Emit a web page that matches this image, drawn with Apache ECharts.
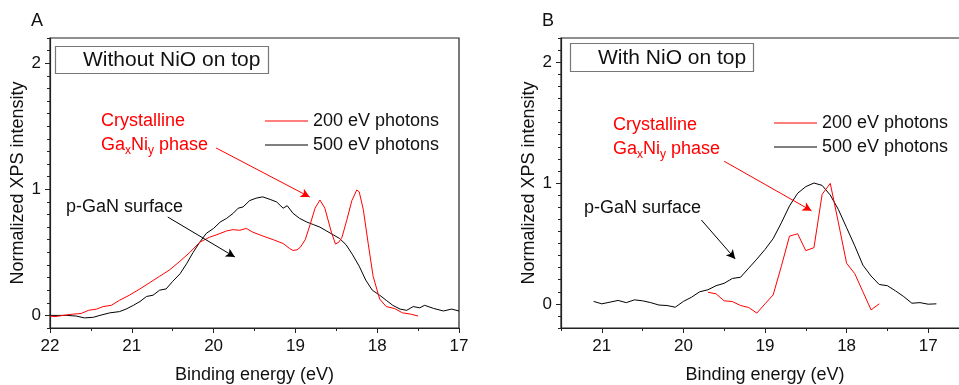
<!DOCTYPE html>
<html>
<head>
<meta charset="utf-8">
<script src="https://cdn.jsdelivr.net/npm/echarts@6/dist/echarts.min.js"></script>
<style>
html,body{margin:0;padding:0;background:#fff;}
#chart{width:959px;height:385px;}
</style>
</head>
<body>
<div id="chart"></div>
<script>
// ---------- Data ----------
// Panel A: Without NiO on top
const aE500 = [22.0,21.8,21.68,21.58,21.47,21.39,21.27,21.15,21.07,20.98,20.9,20.82,20.74,20.66,20.58,20.5,20.41,20.33,20.25,20.17,20.09,20.0,19.92,19.84,19.76,19.7,19.64,19.56,19.48,19.4,19.31,19.23,19.15,19.1,19.03,18.95,18.86,18.78,18.7,18.62,18.54,18.46,18.38,18.3,18.22,18.14,18.06,17.97,17.89,17.81,17.72,17.64,17.56,17.48,17.42,17.31,17.19,17.09,17.0];
const aI500 = [0.0,0.0,-0.005,-0.02,-0.015,0.0,0.02,0.03,0.05,0.08,0.11,0.15,0.16,0.2,0.21,0.27,0.33,0.41,0.5,0.58,0.65,0.69,0.74,0.77,0.81,0.85,0.86,0.91,0.93,0.94,0.92,0.9,0.85,0.87,0.81,0.77,0.74,0.72,0.7,0.67,0.64,0.61,0.56,0.48,0.39,0.28,0.2,0.16,0.12,0.08,0.05,0.04,0.07,0.06,0.08,0.055,0.035,0.05,0.035];
const aE200 = [22.0,21.94,21.84,21.72,21.62,21.53,21.43,21.35,21.25,21.15,21.03,20.9,20.78,20.66,20.54,20.41,20.29,20.17,20.05,19.96,19.84,19.76,19.68,19.6,19.52,19.4,19.27,19.15,19.07,19.03,18.98,18.94,18.88,18.82,18.76,18.7,18.64,18.56,18.51,18.47,18.43,18.37,18.31,18.25,18.22,18.17,18.11,18.05,17.97,17.89,17.79,17.69,17.59,17.5];
const aI200 = [-0.005,-0.01,0.0,0.01,0.015,0.04,0.05,0.07,0.08,0.12,0.16,0.21,0.26,0.31,0.36,0.43,0.5,0.58,0.62,0.64,0.67,0.68,0.675,0.69,0.66,0.63,0.6,0.57,0.53,0.515,0.52,0.54,0.6,0.72,0.85,0.915,0.85,0.66,0.566,0.58,0.62,0.76,0.91,0.995,0.98,0.84,0.57,0.31,0.13,0.07,0.055,0.02,0.01,-0.005];

// Panel B: With NiO on top
const bE500 = [21.1,21.0,20.9,20.8,20.7,20.6,20.5,20.4,20.3,20.2,20.1,20.0,19.9,19.8,19.7,19.6,19.5,19.4,19.3,19.2,19.1,19.0,18.9,18.8,18.7,18.6,18.5,18.4,18.3,18.2,18.1,18.0,17.9,17.8,17.7,17.6,17.5,17.4,17.3,17.2,17.1,17.0,16.9];
const bI500 = [0.02,0.0,0.014,0.028,0.01,0.033,0.025,0.01,-0.01,-0.014,-0.028,0.02,0.055,0.1,0.116,0.15,0.17,0.21,0.22,0.295,0.37,0.45,0.54,0.67,0.81,0.915,0.97,1.0,0.98,0.9,0.78,0.63,0.48,0.32,0.23,0.16,0.15,0.107,0.06,0.005,0.01,-0.003,0.0];
const bE200 = [19.7,19.6,19.5,19.4,19.3,19.2,19.1,19.0,18.9,18.8,18.7,18.6,18.5,18.4,18.3,18.2,18.1,18.0,17.9,17.8,17.7,17.6];
const bI200 = [0.096,0.083,0.025,0.019,-0.014,-0.03,-0.077,0.0,0.074,0.31,0.56,0.58,0.44,0.465,0.906,0.997,0.67,0.336,0.25,0.1,-0.05,0.0];

// Tick values
const yMajor = [0, 1, 2];
const aXMajor = [22, 21, 20, 19, 18, 17];
const bXMajor = [21, 20, 19, 18, 17];

// Annotation arrows in data coordinates [fromE, fromI, toE, toI]
const aRedArrow = [19.97, 1.328, 18.825, 0.939];
const aBlackArrow = [20.56, 0.78, 19.74, 0.463];
const bRedArrow = [19.50, 1.18, 18.43, 0.77];
const bBlackArrow = [19.78, 0.694, 19.365, 0.372];

const names = ['200 eV photons', '500 eV photons'];
// ---------- End data ----------

const FONT = 'Liberation Sans, Arial, sans-serif';
const pairs = (xs, ys) => xs.map((x, i) => [x, ys[i]]);
const range = (a, b, s) => { const r = []; for (let v = a; v <= b + 1e-9; v += s) r.push(Math.round(v * 100) / 100); return r; };

function arrowLine(a, color) {
  return {
    silent: true,
    symbol: ['none', 'arrow'],
    symbolSize: [7, 9],
    label: { show: false },
    lineStyle: { color: color, width: 1, type: 'solid' },
    emphasis: { disabled: true },
    data: [[{ coord: [a[0], a[1]] }, { coord: [a[2], a[3]] }]]
  };
}

function xAxisMajor(gi, min, max, majors) {
  return {
    type: 'value', gridIndex: gi, min: min, max: max, inverse: true, position: 'bottom',
    axisLine: { onZero: false, lineStyle: { color: '#222', width: 1.2 } },
    axisTick: { show: true, length: 5, customValues: majors, lineStyle: { color: '#222' } },
    axisLabel: { customValues: majors, color: '#111', fontSize: 17, fontFamily: FONT, margin: 10 },
    splitLine: { show: false },
    name: 'Binding energy (eV)', nameLocation: 'middle', nameGap: 38,
    nameTextStyle: { color: '#111', fontSize: 18, fontFamily: FONT }
  };
}
function xAxisMinor(gi, min, max) {
  return {
    type: 'value', gridIndex: gi, min: min, max: max, inverse: true, position: 'bottom',
    axisLine: { show: false, onZero: false },
    axisTick: { show: true, length: 3, customValues: range(min, max, 0.5), lineStyle: { color: '#222' } },
    axisLabel: { show: false }, splitLine: { show: false }
  };
}
function yAxisMajor(gi, min, max) {
  return {
    type: 'value', gridIndex: gi, min: min, max: max, position: 'left',
    axisLine: { show: true, onZero: false, lineStyle: { color: '#222', width: 1.2 } },
    axisTick: { show: true, length: 5, customValues: yMajor, lineStyle: { color: '#222' } },
    axisLabel: { customValues: yMajor, color: '#111', fontSize: 17, fontFamily: FONT, margin: 9 },
    splitLine: { show: false },
    name: 'Normalized XPS intensity', nameLocation: 'middle', nameGap: 23,
    nameTextStyle: { color: '#111', fontSize: 18, fontFamily: FONT }
  };
}
function yAxisMinor(gi, min, max) {
  return {
    type: 'value', gridIndex: gi, min: min, max: max, position: 'left',
    axisLine: { show: false, onZero: false },
    axisTick: { show: true, length: 3, customValues: range(Math.ceil(min * 10) / 10, max, 0.1), lineStyle: { color: '#222' } },
    axisLabel: { show: false }, splitLine: { show: false }
  };
}

function line(name, xi, yi, data, color, arrows) {
  const s = {
    name: name, type: 'line', xAxisIndex: xi, yAxisIndex: yi,
    data: data, showSymbol: false, symbol: 'none', smooth: false,
    lineStyle: { color: color, width: 1 }, itemStyle: { color: color },
    emphasis: { disabled: true }, animation: false, z: 3
  };
  if (arrows) s.markLine = arrows;
  return s;
}

const titleStyle = { fill: '#111', fontSize: 21, fontFamily: FONT };
const txt = (x, y, text, size, color) => ({
  type: 'text', x: x, y: y, silent: true,
  style: { text: text, fill: color, fontSize: size, fontFamily: FONT, verticalAlign: 'middle' }
});
const gaNi = (x, y) => ({
  type: 'text', x: x, y: y, silent: true,
  style: {
    text: '{a|Ga}{s|x}{a|Ni}{s|y}{a| phase}',
    verticalAlign: 'middle',
    rich: {
      a: { fill: '#ff0000', fontSize: 18, fontFamily: FONT, lineHeight: 24, verticalAlign: 'middle' },
      s: { fill: '#ff0000', fontSize: 12, fontFamily: FONT, lineHeight: 12, verticalAlign: 'bottom' }
    }
  }
});

const option = {
  animation: false,
  backgroundColor: '#fff',
  grid: [
    { left: 50, top: 38, width: 409, height: 290, show: true, borderColor: '#222', borderWidth: 1.2, backgroundColor: 'transparent', outerBoundsMode: 'none' },
    { left: 561, top: 38, width: 408, height: 290, show: true, borderColor: '#222', borderWidth: 1.2, backgroundColor: 'transparent', outerBoundsMode: 'none' }
  ],
  xAxis: [
    xAxisMajor(0, 17, 22, aXMajor), xAxisMinor(0, 17, 22),
    xAxisMajor(1, 16.5, 21.5, bXMajor), xAxisMinor(1, 16.5, 21.5)
  ],
  yAxis: [
    yAxisMajor(0, -0.1, 2.2), yAxisMinor(0, -0.1, 2.2),
    yAxisMajor(1, -0.2, 2.2), yAxisMinor(1, -0.2, 2.2)
  ],
  legend: [
    { left: 265, top: 112, orient: 'vertical', padding: 0, itemGap: 6, itemWidth: 43, itemHeight: 1, icon: 'rect',
      selectedMode: false, data: names, textStyle: { color: '#111', fontSize: 18, fontFamily: FONT } },
    { left: 774, top: 114, orient: 'vertical', padding: 0, itemGap: 6, itemWidth: 43, itemHeight: 1, icon: 'rect',
      selectedMode: false, data: names, textStyle: { color: '#111', fontSize: 18, fontFamily: FONT } }
  ],
  series: [
    line(names[1], 0, 0, pairs(aE500, aI500), '#000000', arrowLine(aBlackArrow, '#000000')),
    line(names[0], 0, 0, pairs(aE200, aI200), '#ff0000', arrowLine(aRedArrow, '#ff0000')),
    line(names[1], 2, 2, pairs(bE500, bI500), '#000000', arrowLine(bBlackArrow, '#000000')),
    line(names[0], 2, 2, pairs(bE200, bI200), '#ff0000', arrowLine(bRedArrow, '#ff0000'))
  ],
  graphic: [
    txt(31, 21, 'A', 18, '#111'),
    txt(542, 21, 'B', 18, '#111'),
    { type: 'rect', shape: { x: 55.5, y: 46.5, width: 213, height: 27 }, silent: true, style: { fill: '#fff', stroke: '#777', lineWidth: 1.2 } },
    { type: 'text', x: 83, y: 60, silent: true, style: Object.assign({ text: 'Without NiO on top', verticalAlign: 'middle' }, titleStyle) },
    { type: 'rect', shape: { x: 570.5, y: 43.5, width: 183, height: 28 }, silent: true, style: { fill: '#fff', stroke: '#777', lineWidth: 1.2 } },
    { type: 'text', x: 598, y: 58, silent: true, style: Object.assign({ text: 'With NiO on top', verticalAlign: 'middle' }, titleStyle) },
    txt(101, 121, 'Crystalline', 18, '#ff0000'),
    gaNi(101, 145),
    txt(613, 125, 'Crystalline', 18, '#ff0000'),
    gaNi(613, 149),
    txt(66, 207, 'p-GaN surface', 18, '#111'),
    txt(584, 208, 'p-GaN surface', 18, '#111')
  ]
};

const chart = echarts.init(document.getElementById('chart'), null, { renderer: 'canvas', width: 959, height: 385 });
chart.setOption(option);
</script>
</body>
</html>
